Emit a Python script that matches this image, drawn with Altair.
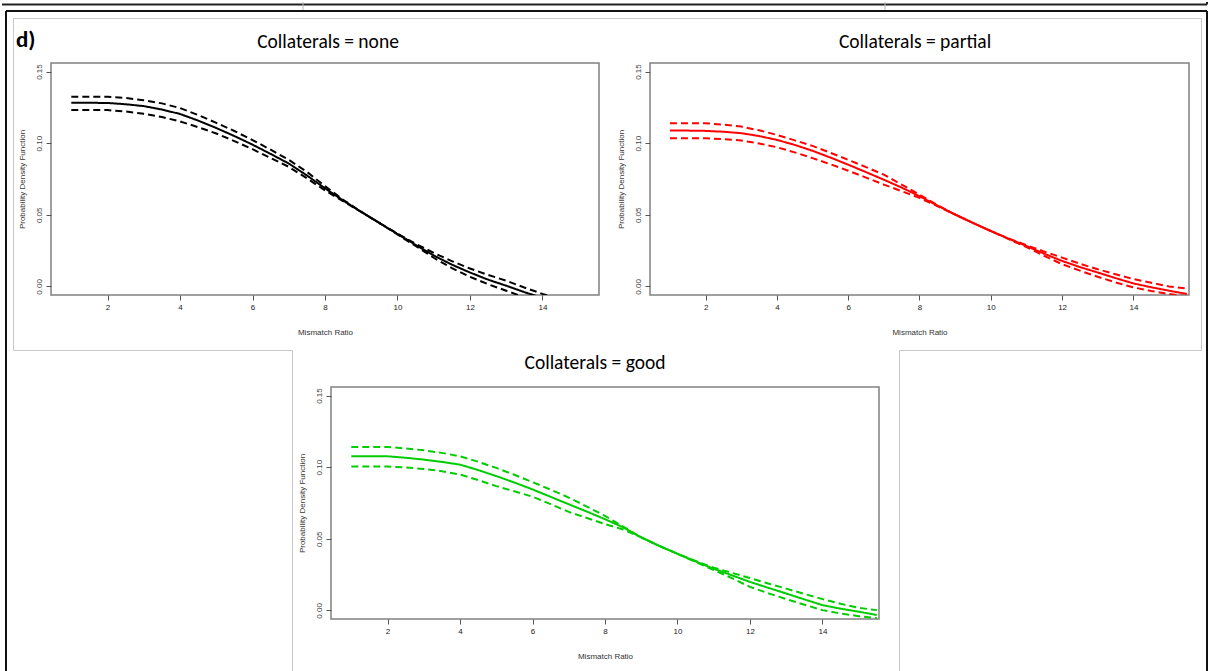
import altair as alt
import pandas as pd

# ---------------- data ----------------
X = [1.0, 1.5, 2.0, 2.5, 3.0, 3.5, 4.0, 4.5, 5.0, 5.5, 6.0, 6.5, 7.0, 7.5, 8.0,
     8.5, 9.0, 9.5, 10.0, 10.5, 11.0, 11.5, 12.0, 12.5, 13.0, 13.5, 14.0, 14.5,
     15.0, 15.5]

NONE_MEAN = [0.1282, 0.1282, 0.1281, 0.1272, 0.1259, 0.1235, 0.1204, 0.1158, 0.1106,
             0.1050, 0.0990, 0.0925, 0.0858, 0.0775, 0.0685, 0.0600, 0.0520, 0.0443,
             0.0366, 0.0290, 0.0216, 0.0152, 0.0097, 0.0047, 0.0005, -0.0040, -0.0080]
NONE_UPPER = [0.1325, 0.1325, 0.1324, 0.1316, 0.1300, 0.1278, 0.1245, 0.1197, 0.1142,
              0.1085, 0.1022, 0.0955, 0.0884, 0.0800, 0.0700, 0.0605, 0.0520, 0.0443,
              0.0368, 0.0298, 0.0234, 0.0177, 0.0125, 0.0080, 0.0040, -0.0008, -0.0052,
              -0.0090]
NONE_LOWER = [0.1232, 0.1232, 0.1231, 0.1222, 0.1205, 0.1183, 0.1152, 0.1112, 0.1068,
              0.1015, 0.0958, 0.0897, 0.0835, 0.0755, 0.0670, 0.0595, 0.0520, 0.0443,
              0.0363, 0.0282, 0.0200, 0.0128, 0.0067, 0.0015, -0.0030, -0.0075]

PARTIAL_MEAN = [0.1088, 0.1088, 0.1086, 0.1080, 0.1070, 0.1050, 0.1023, 0.0988, 0.0947,
                0.0900, 0.0850, 0.0798, 0.0745, 0.0690, 0.0630, 0.0565, 0.0502, 0.0443,
                0.0387, 0.0333, 0.0282, 0.0228, 0.0178, 0.0135, 0.0097, 0.0058, 0.0021,
                -0.0006, -0.0030, -0.0053]
PARTIAL_UPPER = [0.1139, 0.1139, 0.1139, 0.1130, 0.1116, 0.1090, 0.1058, 0.1020, 0.0981,
                 0.0933, 0.0884, 0.0833, 0.0780, 0.0711, 0.0640, 0.0568, 0.0502, 0.0443,
                 0.0387, 0.0335, 0.0288, 0.0243, 0.0201, 0.0158, 0.0120, 0.0085, 0.0051,
                 0.0025, 0.0000, -0.0014]
PARTIAL_LOWER = [0.1035, 0.1035, 0.1035, 0.1028, 0.1019, 0.0998, 0.0972, 0.0936, 0.0896,
                 0.0853, 0.0808, 0.0760, 0.0711, 0.0665, 0.0618, 0.0560, 0.0502, 0.0443,
                 0.0387, 0.0330, 0.0275, 0.0213, 0.0155, 0.0110, 0.0067, 0.0028, -0.0007,
                 -0.0032, -0.0053, -0.0070]

GOOD_MEAN = [0.1076, 0.1076, 0.1076, 0.1066, 0.1053, 0.1037, 0.1018, 0.0980, 0.0938,
             0.0893, 0.0845, 0.0793, 0.0741, 0.0690, 0.0637, 0.0580, 0.0510, 0.0450,
             0.0395, 0.0342, 0.0291, 0.0245, 0.0199, 0.0158, 0.0118, 0.0077, 0.0037,
             0.0012, -0.0009, -0.0032]
GOOD_UPPER = [0.1141, 0.1141, 0.1141, 0.1131, 0.1118, 0.1100, 0.1076, 0.1038, 0.0995,
              0.0947, 0.0896, 0.0843, 0.0788, 0.0725, 0.0660, 0.0585, 0.0510, 0.0450,
              0.0395, 0.0345, 0.0298, 0.0262, 0.0226, 0.0188, 0.0152, 0.0115, 0.0079,
              0.0046, 0.0018, 0.0002]
GOOD_LOWER = [0.1005, 0.1005, 0.1005, 0.0998, 0.0988, 0.0972, 0.0949, 0.0910, 0.0868,
              0.0832, 0.0794, 0.0742, 0.0688, 0.0645, 0.0603, 0.0565, 0.0510, 0.0450,
              0.0395, 0.0338, 0.0282, 0.0225, 0.0164, 0.0120, 0.0079, 0.0040, 0.0002,
              -0.0022, -0.0040, -0.0055]

Y_TICKS = [0.0, 0.05, 0.10, 0.15]
X_TICKS = [2, 4, 6, 8, 10, 12, 14]
TITLES = ["Collaterals = none", "Collaterals = partial", "Collaterals = good"]
COLORS = ["#000000", "#ff0000", "#00cd00"]
BANDS = ["mean", "upper", "lower"]

# ---------------- helpers ----------------
TITLE_FONT = "Carlito, Calibri, Lato, sans-serif"
AX_FONT = "Liberation Sans, Arial, sans-serif"

one = pd.DataFrame({"d": [0]})


def frame(mean, upper, lower):
    rows = []
    for band, vals in zip(BANDS, [mean, upper, lower]):
        for x, y in zip(X, vals):
            rows.append({"x": x, "y": y, "band": band})
    return pd.DataFrame(rows)


def title_text(text, x, y):
    return alt.Chart(one).mark_text(
        text=text, font=TITLE_FONT, fontSize=19.5, color="#000000",
        align="center", baseline="alphabetic"
    ).encode(x=alt.value(x), y=alt.value(y))


def panel(df, color, title, width, height, tx, ty, extra=()):
    lines = alt.Chart(df).mark_line(clip=True, strokeWidth=2, color=color).encode(
        x=alt.X("x:Q",
                scale=alt.Scale(domain=[0.44, 15.56], nice=False, zero=False),
                axis=alt.Axis(values=X_TICKS, format="d", title="Mismatch Ratio",
                              labelPadding=3, titlePadding=17, labelFlush=False,
                              labelOverlap=False)),
        y=alt.Y("y:Q",
                scale=alt.Scale(domain=[-0.006, 0.156], nice=False, zero=False),
                axis=alt.Axis(values=Y_TICKS, format=".2f",
                              title="Probability Density Function",
                              labelAngle=270, labelAlign="center",
                              labelBaseline="bottom", labelPadding=3,
                              titlePadding=9, labelFlush=False,
                              labelOverlap=False, labelColor="#444444")),
        detail="band:N",
        strokeDash=alt.StrokeDash("band:N",
                                  scale=alt.Scale(domain=BANDS,
                                                  range=[[1, 0], [7, 4], [7, 4]]),
                                  legend=None),
    ).properties(width=width, height=height)
    return alt.layer(lines, title_text(title, tx, ty), *extra)


OX, OY = 50, 62  # page position of the first panel's plot area


def seg(x1, y1, x2, y2, color, w):
    return alt.Chart(one).mark_rule(color=color, strokeWidth=w).encode(
        x=alt.value(x1 - OX), y=alt.value(y1 - OY),
        x2=alt.value(x2 - OX), y2=alt.value(y2 - OY))


deco = [
    # invisible anchor at the page's top-left corner
    alt.Chart(one).mark_rect(opacity=0).encode(
        x=alt.value(0 - OX), y=alt.value(0 - OY),
        x2=alt.value(2 - OX), y2=alt.value(2 - OY)),
    # strip of the table above
    seg(1, 3.5, 1206, 3.5, "#222222", 2),
    seg(1206, 1, 1206, 3.5, "#222222", 2),
    seg(302, 1, 302, 9, "#bbbbbb", 1),
    seg(884, 1, 884, 9, "#bbbbbb", 1),
    # outer black box
    seg(5, 10, 1206, 10, "#111111", 2),
    seg(5, 10, 5, 670, "#111111", 2),
    seg(1206, 10, 1206, 670, "#111111", 2),
    # grey image boxes
    seg(12.5, 17.5, 1200.5, 17.5, "#c8c8c8", 1),
    seg(12.5, 17.5, 12.5, 349.5, "#c8c8c8", 1),
    seg(1200.5, 17.5, 1200.5, 349.5, "#c8c8c8", 1),
    seg(12.5, 349.5, 291.5, 349.5, "#c8c8c8", 1),
    seg(898.5, 349.5, 1200.5, 349.5, "#c8c8c8", 1),
    seg(291.5, 349.5, 291.5, 670, "#c8c8c8", 1),
    seg(898.5, 349.5, 898.5, 670, "#c8c8c8", 1),
    alt.Chart(one).mark_text(text="d)", font=TITLE_FONT, fontSize=23,
                             fontWeight="bold", align="left",
                             baseline="alphabetic", color="#000000").encode(
        x=alt.value(15 - OX), y=alt.value(46 - OY)),
]

p1 = panel(frame(NONE_MEAN, NONE_UPPER, NONE_LOWER), COLORS[0],
           TITLES[0], 548, 232, 277, -15, deco)
p2 = panel(frame(PARTIAL_MEAN, PARTIAL_UPPER, PARTIAL_LOWER), COLORS[1],
           TITLES[1], 539, 232, 265, -15)
p3 = panel(frame(GOOD_MEAN, GOOD_UPPER, GOOD_LOWER), COLORS[2],
           TITLES[2], 548, 232, 264, -18)

spacer = alt.Chart(one).mark_point(opacity=0).encode(
    x=alt.value(0), y=alt.value(0)
).properties(width=270, height=232, view=alt.ViewBackground(stroke=None))

top = alt.hconcat(p1, p2, spacing=51, bounds="flush")
bottom = alt.hconcat(spacer, p3, spacing=10, bounds="flush")

# nested rows count with no height under "flush": spacing is top-to-top
chart = alt.vconcat(top, bottom, spacing=324, bounds="flush").properties(
    padding=0, background="white"
).configure_view(
    stroke="#808080", strokeWidth=1.5
).configure_axis(
    labelFont=AX_FONT, labelFontSize=8, labelColor="#222222",
    titleFont=AX_FONT, titleFontSize=8, titleFontWeight="normal",
    titleColor="#333333", tickColor="#555555", tickSize=5, domain=False,
    grid=False,
)

chart.save("out.html", embed_options={"renderer": "svg", "actions": False})
